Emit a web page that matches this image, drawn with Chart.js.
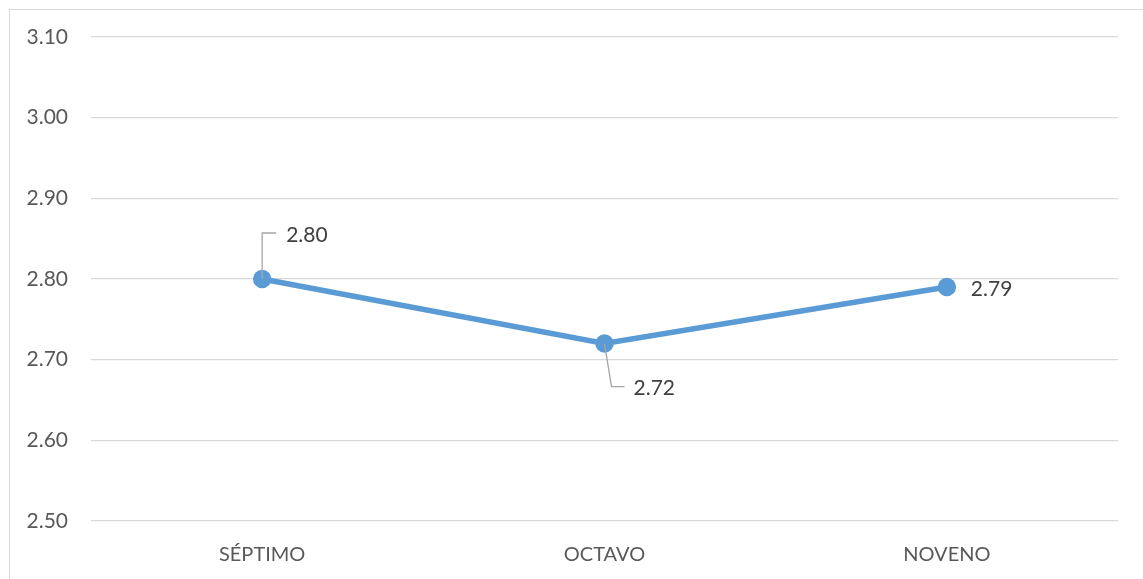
<!DOCTYPE html>
<html><head><meta charset="utf-8">
<script src="https://cdn.jsdelivr.net/npm/chart.js@4/dist/chart.umd.min.js"></script>
<style>html,body{margin:0;padding:0;background:#fff}#wrap{width:1143px;height:579px;position:relative}</style>
</head><body><div id="wrap"><canvas id="c" width="1143" height="579"></canvas></div>
<script>
const categories = ["SÉPTIMO", "OCTAVO", "NOVENO"];
const values = [2.80, 2.72, 2.79];
const valueLabels = ["2.80", "2.72", "2.79"];
const yMin = 2.5, yMax = 3.1, yStep = 0.1;

const FONT = "Lato, 'Liberation Sans', sans-serif";

// label placement styles: leader-line modes
const labelStyles = [
  {mode: "up", lx: 0, ly: -46, hx: 14, tx: 24},
  {mode: "down", lx: 7, ly: 43, hx: 13, tx: 22},
  {mode: "right", tx: 24}
];

const borderPlugin = {
  id: 'frame',
  beforeDraw(chart) {
    const ctx = chart.ctx;
    ctx.save();
    ctx.strokeStyle = '#d9d9d9';
    ctx.lineWidth = 1;
    ctx.strokeRect(9.5, 9.5, 1200, 700);
    ctx.restore();
  }
};

const labelPlugin = {
  id: 'vlabels',
  afterDatasetsDraw(chart) {
    const ctx = chart.ctx;
    const meta = chart.getDatasetMeta(0);
    ctx.save();
    ctx.font = "21px " + FONT;
    ctx.fillStyle = '#404040';
    ctx.textBaseline = 'middle';
    ctx.textAlign = 'left';
    meta.data.forEach((pt, i) => {
      const s = labelStyles[i];
      const x = pt.x, y = pt.y;
      ctx.strokeStyle = '#a6a6a6';
      ctx.lineWidth = 1.3;
      if (s.mode === 'up' || s.mode === 'down') {
        const ex = x + s.lx, ey = y + s.ly;
        ctx.beginPath();
        ctx.moveTo(x, y);
        ctx.lineTo(ex, ey);
        ctx.lineTo(ex + s.hx, ey);
        ctx.stroke();
        ctx.fillText(valueLabels[i], ex + s.tx, ey + 2);
      } else {
        ctx.fillText(valueLabels[i], x + s.tx, y + 2);
      }
    });
    ctx.restore();
  }
};

new Chart(document.getElementById('c'), {
  type: 'line',
  data: {
    labels: categories,
    datasets: [{
      data: values,
      borderColor: '#5b9bd5',
      backgroundColor: '#5b9bd5',
      borderWidth: 5.5,
      pointRadius: 6.5,
      pointHoverRadius: 6.5,
      pointBackgroundColor: '#5b9bd5',
      pointBorderColor: '#5b9bd5',
      tension: 0
    }]
  },
  options: {
    responsive: false,
    animation: false,
    layout: {padding: {top: 37, right: 25, left: 0, bottom: 0}},
    plugins: {legend: {display: false}, tooltip: {enabled: false}},
    scales: {
      x: {
        offset: true,
        grid: {display: false, drawTicks: false},
        border: {display: false},
        ticks: {color: '#595959', font: {family: FONT, size: 20}, padding: 22},
        afterFit(s) { s.height = 58; }
      },
      y: {
        min: yMin, max: yMax,
        grid: {color: '#d9d9d9', lineWidth: 1.3, drawTicks: false},
        border: {display: false},
        ticks: {stepSize: yStep, color: '#595959', font: {family: FONT, size: 21}, padding: 23,
          callback: v => v.toFixed(2)},
        afterFit(s) { s.width = 91; }
      }
    }
  },
  plugins: [borderPlugin, labelPlugin]
});
</script>
</body></html>
